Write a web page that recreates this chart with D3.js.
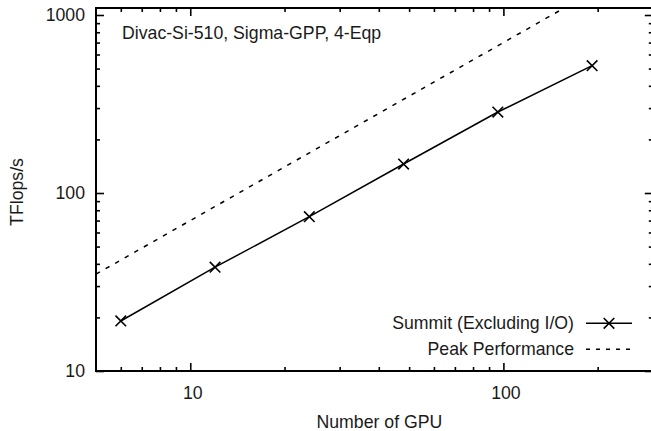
<!DOCTYPE html>
<html><head><meta charset="utf-8">
<script src="https://cdn.jsdelivr.net/npm/d3@7"></script>
<style>
body{margin:0;background:#fff;}
svg{display:block;font-family:"Liberation Sans",Arial,sans-serif;}
</style></head><body>
<svg id="c" width="651" height="431"></svg>
<script>
const gpus = [6, 12, 24, 48, 96, 192];
const tflops = [19.1, 38.3, 73.6, 145.5, 285, 519];
const peakGpus = [5, 300];
const peakTflops = [35, 2100];
const xMajor = [10, 100];
const xMinor = [6, 7, 8, 9, 20, 30, 40, 50, 60, 70, 80, 90, 200, 300];
const yMajor = [10, 100, 1000];
const yMinor = [20, 30, 40, 50, 60, 70, 80, 90, 200, 300, 400, 500, 600, 700, 800, 900];
const title = "Divac-Si-510, Sigma-GPP, 4-Eqp";
const xLabel = "Number of GPU";
const yLabel = "TFlops/s";
const legendLabels = ["Summit (Excluding I/O)", "Peak Performance"];

const svg = d3.select("#c");
const FS = 17.7;
const pLeft = 96, pBottom = 371, pTop = 8;
const x = d3.scaleLog().domain([5, 300]).range([pLeft, 652.8]);
const y = d3.scaleLog().domain([10, 1000]).range([pBottom, 15]);
const pRight = x(300);

svg.append("defs").append("clipPath").attr("id","clip")
  .append("rect").attr("x",pLeft).attr("y",pTop).attr("width",pRight-pLeft).attr("height",pBottom-pTop);

function styleAxis(g){
  g.select(".domain").remove();
  g.selectAll("line").attr("stroke","#000").attr("stroke-width",1.6);
  g.selectAll("text").attr("font-size",FS).attr("fill","#1a1a1a").attr("font-family","Liberation Sans, Arial, sans-serif");
}
// bottom
svg.append("g").attr("transform",`translate(0,${pBottom})`)
  .call(d3.axisBottom(x).tickValues(xMajor).tickFormat(d3.format("d")).tickSize(-8).tickPadding(15))
  .call(styleAxis).selectAll("text").attr("dx",2);
svg.append("g").attr("transform",`translate(0,${pBottom})`)
  .call(d3.axisBottom(x).tickValues(xMinor).tickFormat("").tickSize(-4)).call(styleAxis);
// top
svg.append("g").attr("transform",`translate(0,${pTop})`)
  .call(d3.axisTop(x).tickValues(xMajor).tickFormat("").tickSize(-8)).call(styleAxis);
svg.append("g").attr("transform",`translate(0,${pTop})`)
  .call(d3.axisTop(x).tickValues(xMinor).tickFormat("").tickSize(-4)).call(styleAxis);
// left
svg.append("g").attr("transform",`translate(${pLeft},0)`)
  .call(d3.axisLeft(y).tickValues(yMajor).tickFormat(d3.format("d")).tickSize(-8).tickPadding(11))
  .call(styleAxis);
svg.append("g").attr("transform",`translate(${pLeft},0)`)
  .call(d3.axisLeft(y).tickValues(yMinor).tickFormat("").tickSize(-4)).call(styleAxis);
// right
svg.append("g").attr("transform",`translate(${pRight},0)`)
  .call(d3.axisRight(y).tickValues(yMajor).tickFormat("").tickSize(-8)).call(styleAxis);
svg.append("g").attr("transform",`translate(${pRight},0)`)
  .call(d3.axisRight(y).tickValues(yMinor).tickFormat("").tickSize(-4)).call(styleAxis);

// frame
svg.append("rect").attr("x",pLeft).attr("y",pTop).attr("width",pRight-pLeft).attr("height",pBottom-pTop)
  .attr("fill","none").attr("stroke","#000").attr("stroke-width",2);

const line = d3.line().x(d=>x(d[0])).y(d=>y(d[1]));
const plot = svg.append("g").attr("clip-path","url(#clip)");
plot.append("path").datum(d3.zip(peakGpus, peakTflops)).attr("d",line)
  .attr("fill","none").attr("stroke","#000").attr("stroke-width",1.5).attr("stroke-dasharray","4.5,6.5");
plot.append("path").datum(d3.zip(gpus, tflops)).attr("d",line)
  .attr("fill","none").attr("stroke","#000").attr("stroke-width",1.5);
const S = 5.3;
function cross(g, cx, cy){
  g.append("path").attr("d",`M${cx-S},${cy-S}L${cx+S},${cy+S}M${cx-S},${cy+S}L${cx+S},${cy-S}`)
   .attr("stroke","#000").attr("stroke-width",1.6).attr("fill","none");
}
d3.zip(gpus, tflops).forEach(d=>cross(plot, x(d[0]), y(d[1])));

// texts
svg.append("text").attr("x",122).attr("y",39).attr("font-size",FS).attr("fill","#1a1a1a").text(title);
svg.append("text").attr("x",(pLeft+pRight)/2+5).attr("y",428).attr("text-anchor","middle")
  .attr("font-size",FS).attr("fill","#1a1a1a").text(xLabel);
svg.append("text").attr("transform","translate(23,192) rotate(-90)").attr("text-anchor","middle")
  .attr("font-size",FS).attr("fill","#1a1a1a").text(yLabel);

// legend
const lg = svg.append("g");
const ly = [323.3, 349.3];
lg.append("text").attr("x",574).attr("y",ly[0]).attr("dy","0.35em").attr("text-anchor","end")
  .attr("font-size",FS).attr("fill","#1a1a1a").text(legendLabels[0]);
lg.append("line").attr("x1",586).attr("x2",632).attr("y1",ly[0]).attr("y2",ly[0])
  .attr("stroke","#000").attr("stroke-width",1.5);
cross(lg, 609, ly[0]);
lg.append("text").attr("x",574).attr("y",ly[1]).attr("dy","0.35em").attr("text-anchor","end")
  .attr("font-size",FS).attr("fill","#1a1a1a").text(legendLabels[1]);
lg.append("line").attr("x1",586).attr("x2",632).attr("y1",ly[1]).attr("y2",ly[1])
  .attr("stroke","#000").attr("stroke-width",1.5).attr("stroke-dasharray","4,6");
</script></body></html>
